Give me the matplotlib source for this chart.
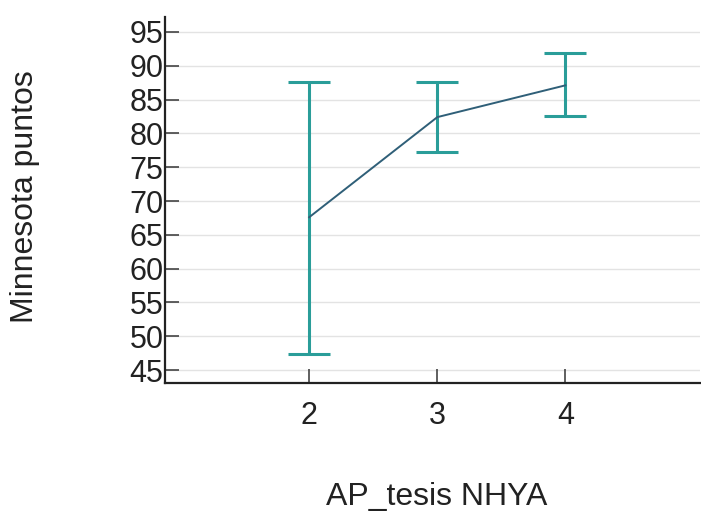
import numpy as np
import matplotlib
matplotlib.use("Agg")
import matplotlib.pyplot as plt

plt.rcParams['font.family'] = ['Liberation Sans', 'DejaVu Sans']

nyha = [2, 3, 4]
media = [67.6, 82.4, 87.1]
sup = [87.6, 87.6, 91.9]
inf = [47.4, 77.3, 82.6]
yticks = [45, 50, 55, 60, 65, 70, 75, 80, 85, 90, 95]

media = np.array(media)
err = [media - np.array(inf), np.array(sup) - media]

fig = plt.figure(figsize=(7.01, 5.13), dpi=100)
ax = fig.add_axes([165 / 701, 130 / 513, 535 / 701, 366 / 513])

for y in yticks:
    ax.axhline(y, color='#e3e3e3', lw=1, zorder=0)

ax.errorbar(nyha, media, yerr=err, fmt='none', ecolor='#2a9d99',
            elinewidth=2.2, capsize=15, capthick=2.2, zorder=2)
ax.plot(nyha, media, color='#2f5f78', lw=1.4, zorder=3)

ax.set_xlim(0.875, 5.05)
ax.set_ylim(43.1, 97.2)
ax.set_xticks(nyha)
ax.set_yticks(yticks)
ax.tick_params(axis='both', direction='in', length=10, width=1.2,
               labelsize=22, color='#444444', labelcolor='#222222')
ax.tick_params(axis='y', pad=1)
ax.tick_params(axis='x', pad=13)
for s in ['top', 'right']:
    ax.spines[s].set_visible(False)
for s in ['left', 'bottom']:
    ax.spines[s].set_linewidth(1.6)
    ax.spines[s].set_color('#222222')

fig.text(25 / 701, 1 - 197 / 513, 'Minnesota puntos', rotation=90,
         ha='center', va='center', fontsize=23, color='#222222')
fig.text(437 / 701, 1 - 497 / 513, 'AP_tesis NHYA',
         ha='center', va='center', fontsize=23, color='#222222')

fig.savefig('out.png', dpi=100)
